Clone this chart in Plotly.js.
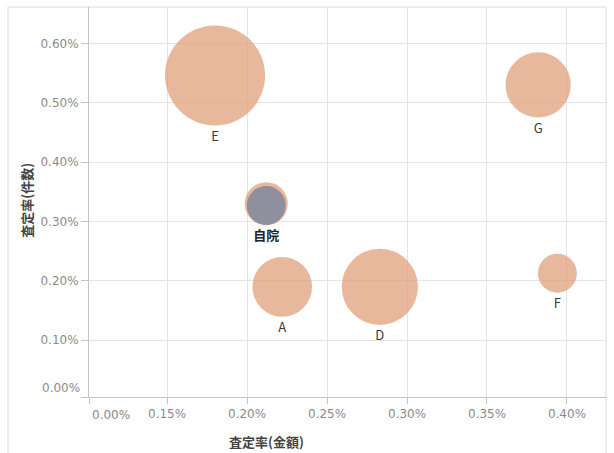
<!DOCTYPE html>
<html><head><meta charset="utf-8">
<script src="https://cdn.plot.ly/plotly-3.0.1.min.js"></script>
<style>html,body{margin:0;padding:0;background:#fff}</style>
</head><body><div id="chart" style="width:614px;height:453px"></div>
<script>
// 査定率(金額) %, 査定率(件数) %, bubble volume
const hospitals = ['E', 'G', '自院', 'A', 'D', 'F'];
const hospitalLabels = ['E', 'G', '', 'A', 'D', 'F'];
const rateAmount = [0.180, 0.382, 0.212, 0.222, 0.283, 0.394];
const rateCount = [0.546, 0.530, 0.330, 0.190, 0.190, 0.213];
const claimVolume = [1000, 426, 185, 356, 582, 152];

const selfName = ['自院'];
const selfAmount = [0.212];
const selfCount = [0.327];
const selfVolume = [152];

const xTickVals = [0.15, 0.20, 0.25, 0.30, 0.35, 0.40];
const xTickText = ['0.15%', '0.20%', '0.25%', '0.30%', '0.35%', '0.40%'];
const yTickVals = [0.1, 0.2, 0.3, 0.4, 0.5, 0.6];
const yTickText = ['0.10%', '0.20%', '0.30%', '0.40%', '0.50%', '0.60%'];
const xOriginText = '0.00%';
const yOriginText = '0.00%';
const xTitle = '査定率(金額)';
const yTitle = '査定率(件数)';

const xRange = [0.1012, 0.4244];
const yRange = [0.0045, 0.6613];
const maxDiameter = 100;
const sizeref = 2 * Math.max(...claimVolume) / (maxDiameter * maxDiameter);
const radiusOf = v => Math.sqrt(v / 2 / sizeref);
const labelMarker = v => 1.6 * (radiusOf(v) + 4.5);

const tickFont = {family: 'DejaVu Sans', size: 12, color: '#8a8a8a'};
const cjk = '"Noto Sans CJK JP", "Noto Sans", sans-serif';
const hidden = {color: 'rgba(0,0,0,0)', opacity: 0, line: {width: 0, color: 'rgba(0,0,0,0)'}};

const traces = [
  {
    type: 'scatter', mode: 'markers', x: rateAmount, y: rateCount, text: hospitals,
    marker: {size: claimVolume, sizemode: 'area', sizeref: sizeref, color: '#DF9C76', opacity: 0.72, line: {width: 0}},
    hoverinfo: 'text', showlegend: false
  },
  {
    type: 'scatter', mode: 'markers', x: selfAmount, y: selfCount, text: selfName,
    marker: {size: selfVolume, sizemode: 'area', sizeref: sizeref, color: '#8E909E', opacity: 1, line: {width: 0}},
    hoverinfo: 'text', showlegend: false
  },
  {
    type: 'scatter', mode: 'markers+text', x: rateAmount, y: rateCount, text: hospitalLabels,
    textposition: 'bottom center',
    textfont: {family: cjk, size: 13, color: '#3a3a3a'},
    marker: Object.assign({size: claimVolume.map(labelMarker)}, hidden),
    hoverinfo: 'skip', showlegend: false
  },
  {
    type: 'scatter', mode: 'markers+text', x: selfAmount, y: selfCount, text: selfName.map(t => '<b>' + t + '</b>'),
    textposition: 'bottom center',
    textfont: {family: cjk, size: 13, color: '#222'},
    marker: Object.assign({size: selfVolume.map(labelMarker)}, hidden),
    hoverinfo: 'skip', showlegend: false
  }
];

const layout = {
  width: 614, height: 453,
  margin: {l: 89, r: 8, t: 7, b: 56},
  paper_bgcolor: '#fff', plot_bgcolor: '#fff',
  xaxis: {
    range: xRange, tickmode: 'array',
    tickvals: [xRange[0]].concat(xTickVals), ticktext: [''].concat(xTickText),
    showgrid: true, gridcolor: '#e4e4e4', gridwidth: 1,
    showline: true, linecolor: '#c4c4c4', linewidth: 1,
    ticks: 'outside', ticklen: 6, tickcolor: '#c4c4c4',
    zeroline: false, tickfont: tickFont, fixedrange: true
  },
  yaxis: {
    range: yRange, tickmode: 'array',
    tickvals: [yRange[0]].concat(yTickVals), ticktext: [''].concat(yTickText),
    showgrid: true, gridcolor: '#e4e4e4', gridwidth: 1,
    showline: true, linecolor: '#c4c4c4', linewidth: 1,
    ticks: 'outside', ticklen: 7, tickcolor: '#c4c4c4',
    zeroline: false, tickfont: tickFont, fixedrange: true
  },
  shapes: [
    {type: 'rect', xref: 'paper', yref: 'paper', x0: -0.1567, x1: 1, y0: -0.2, y1: 1,
     line: {color: '#dadada', width: 1}, fillcolor: 'rgba(0,0,0,0)', layer: 'below'}
  ],
  annotations: [
    {xref: 'paper', yref: 'paper', x: (110.7 - 89) / 517, y: (397 - 415) / 390, text: xOriginText,
     showarrow: false, xanchor: 'center', yanchor: 'middle', font: tickFont},
    {xref: 'paper', yref: 'paper', x: (81.5 - 89) / 517, y: (397 - 388.3) / 390, text: yOriginText,
     showarrow: false, xanchor: 'right', yanchor: 'middle', font: tickFont},
    {xref: 'paper', yref: 'paper', x: (266.5 - 89) / 517, y: (397 - 441) / 390, text: '<b>' + xTitle + '</b>',
     showarrow: false, xanchor: 'center', yanchor: 'middle', font: {family: cjk, size: 13, color: '#444'}},
    {xref: 'paper', yref: 'paper', x: (25.7 - 89) / 517, y: (397 - 200) / 390, text: '<b>' + yTitle + '</b>',
     showarrow: false, xanchor: 'center', yanchor: 'middle', textangle: -90, font: {family: cjk, size: 13, color: '#444'}}
  ]
};

Plotly.newPlot('chart', traces, layout, {displayModeBar: false, staticPlot: true});
</script></body></html>
